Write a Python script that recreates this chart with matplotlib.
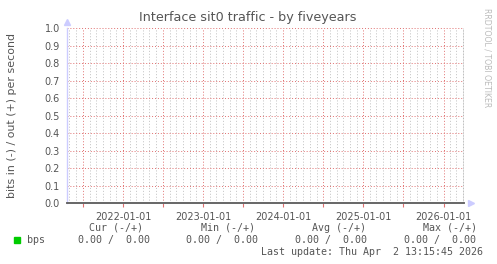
import numpy as np
import matplotlib
matplotlib.use("Agg")
import matplotlib.pyplot as plt
import matplotlib.dates as mdates
from datetime import datetime

# Data shown in the graph (everything sits at zero)
dates = ["2021-04-20", "2022-01-01", "2023-01-01", "2024-01-01", "2025-01-01", "2026-04-02"]
bps_in = [0, 0, 0, 0, 0, 0]
bps_out = [0, 0, 0, 0, 0, 0]

y_ticks = [0.0, 0.1, 0.2, 0.3, 0.4, 0.5, 0.6, 0.7, 0.8, 0.9, 1.0]
legend_headers = ["Cur (-/+)", "Min (-/+)", "Avg (-/+)", "Max (-/+)"]
legend_values = ["0.00 /  0.00", "0.00 /  0.00", "0.00 /  0.00", "0.00 /  0.00"]
last_update = "Last update: Thu Apr  2 13:15:45 2026"

W, H = 497, 264
TEXT = "#555555"

t = [datetime.strptime(d, "%Y-%m-%d") for d in dates]

fig = plt.figure(figsize=(W / 100, H / 100), dpi=100, facecolor="white")


def px(x, y):
    return x / W, 1 - y / H


x0, x1, ytop, ybot = 67, 463.5, 28.3, 203.3
ax = fig.add_axes([x0 / W, 1 - ybot / H, (x1 - x0) / W, (ybot - ytop) / H])
ax.set_facecolor("white")

ax.plot(t, bps_out, color="#666666", lw=1.2, zorder=5, clip_on=False)
ax.plot(t, [-v for v in bps_in], color="#666666", lw=1.2, zorder=5, clip_on=False)

ax.set_xlim(t[0], t[-1])
ax.set_ylim(0, 1.0)

# grid: monthly gray, half-yearly red, labels yearly
ax.xaxis.set_minor_locator(mdates.MonthLocator())
ax.xaxis.set_major_locator(mdates.MonthLocator(bymonth=[1, 7]))
ax.xaxis.set_major_formatter(
    plt.FuncFormatter(lambda v, p: mdates.num2date(v).strftime("%Y-%m-%d")
                      if mdates.num2date(v).month == 1 else ""))
ax.set_yticks(y_ticks)
ax.yaxis.set_major_formatter(plt.FuncFormatter(lambda v, p: "%.1f" % v))

ax.grid(which="minor", axis="x", color="#c0c0c0", lw=0.7, ls=(0, (1, 2)))
ax.grid(which="major", axis="x", color="#e07070", lw=0.7, ls=(0, (1, 2)))
ax.grid(which="major", axis="y", color="#e07070", lw=0.7, ls=(0, (1, 2)))

ax.tick_params(axis="both", which="both", labelsize=7, labelcolor=TEXT)
ax.tick_params(axis="x", which="major", length=3, color="#e07070", pad=3)
ax.tick_params(axis="x", which="minor", length=0)
ax.tick_params(axis="y", length=0, pad=5)

for s in ["top", "right", "bottom"]:
    ax.spines[s].set_visible(False)
ax.spines["left"].set_color("#ccccff")
ax.spines["left"].set_linewidth(1.0)

# right edge line and axis arrows
ax.axvline(t[-1], color="#888888", lw=1.0, zorder=4)
ax.plot([0], [1.035], marker="^", color="#ccccff", ms=4, transform=ax.transAxes, clip_on=False)
ax.plot([1.02], [0], marker=">", color="#ccccff", ms=4, transform=ax.transAxes, clip_on=False)

fig.text(*px(248, 18), "Interface sit0 traffic - by fiveyears", ha="center", va="center",
         fontsize=9.2, color=TEXT)
fig.text(*px(12, 115), "bits in (-) / out (+) per second", ha="center", va="center",
         rotation=90, fontsize=7.9, color=TEXT)
fig.text(*px(487, 58), "RRDTOOL / TOBI OETIKER", ha="center", va="center",
         rotation=270, fontsize=5.6, color="#bbbbbb")

mono = dict(family="DejaVu Sans Mono", fontsize=7.2, color=TEXT, va="center")
header_x = [89, 201, 312, 423]
value_x = [78, 186, 295, 404]
for hx, h in zip(header_x, legend_headers):
    fig.text(*px(hx, 228), h, ha="left", **mono)
fig.patches.append(plt.Rectangle(px(14, 243), 6 / W, 6 / H, color="#00cc00",
                                 transform=fig.transFigure, figure=fig))
fig.text(*px(27, 240), "bps", ha="left", **mono)
for vx, v in zip(value_x, legend_values):
    fig.text(*px(vx, 240), v, ha="left", **mono)
fig.text(*px(483, 252), last_update, ha="right", **mono)

fig.savefig("out.png", dpi=100, facecolor="white")
